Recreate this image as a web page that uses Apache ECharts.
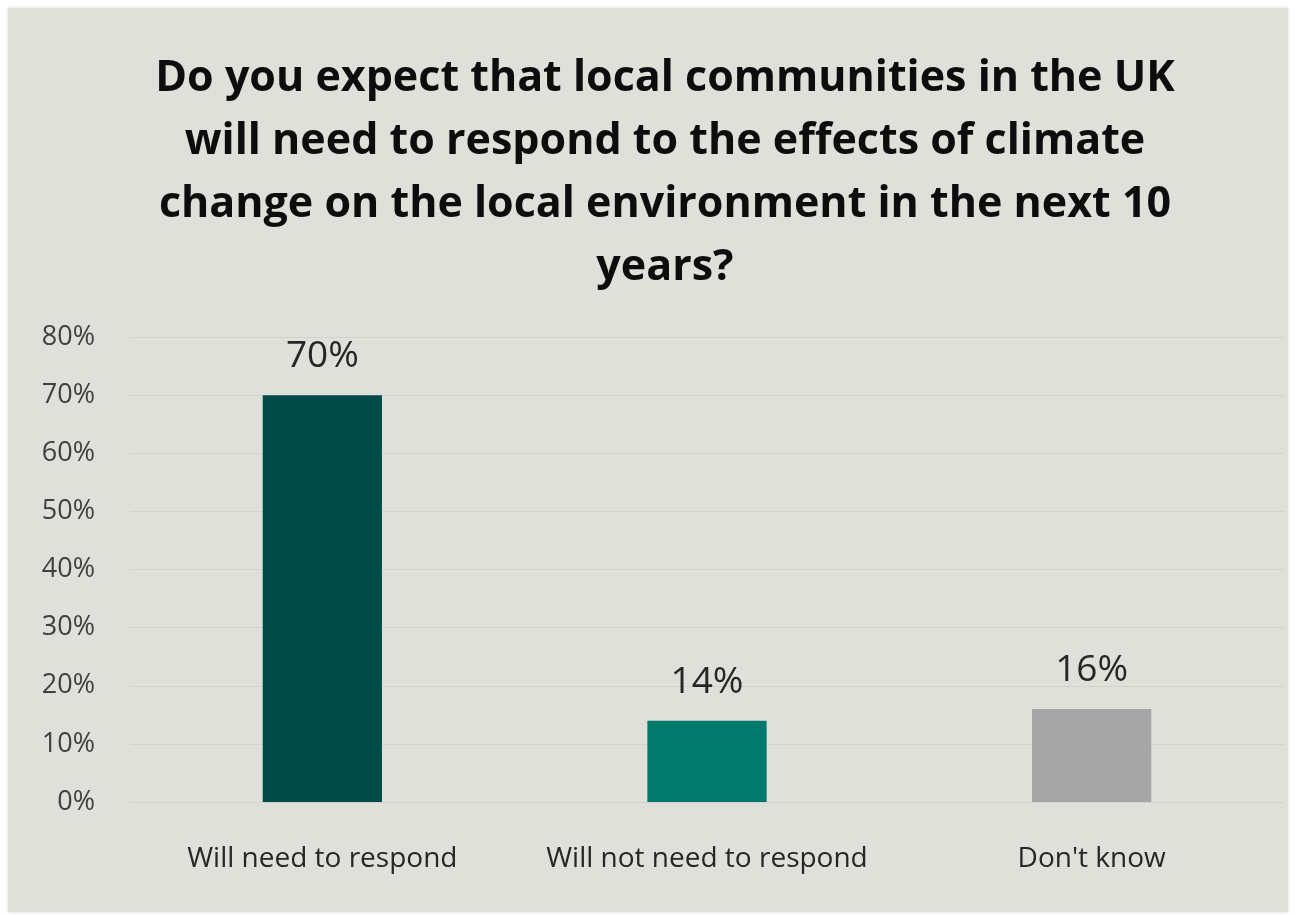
<!DOCTYPE html>
<html><head><meta charset="utf-8">
<script src="https://cdn.jsdelivr.net/npm/echarts@6/dist/echarts.min.js"></script>
<style>html,body{margin:0;padding:0;background:#fff}#c{width:1296px;height:915px}</style>
</head><body><div id="c"></div>
<script>
const categories = ['Will need to respond', 'Will not need to respond', "Don't know"];
const values = [70, 14, 16];
const barColors = ['#004B48', '#007A6C', '#A6A6A6'];
const yTicks = [0, 10, 20, 30, 40, 50, 60, 70, 80];
const titleText = 'Do you expect that local communities in the UK\nwill need to respond to the effects of climate\nchange on the local environment in the next 10\nyears?';

const chart = echarts.init(document.getElementById('c'));
const FONT = '"Open Sans", Lato, sans-serif';
chart.setOption({
  backgroundColor: '#ffffff',
  animation: false,
  graphic: [{
    type: 'rect', z: -10, silent: true,
    shape: {x: 8, y: 8, width: 1280, height: 904},
    style: {fill: '#E0E0DA', shadowBlur: 4, shadowColor: 'rgba(0,0,0,0.15)'}
  }],
  title: {
    text: titleText,
    left: 660, top: 42, textAlign: 'center',
    textStyle: {fontFamily: FONT, fontWeight: 'bold', fontSize: 43, lineHeight: 63, color: '#0d0d0d'}
  },
  grid: {left: 130, right: 12, top: 337, bottom: 113},
  xAxis: {
    type: 'category', data: categories,
    axisLine: {show: false}, axisTick: {show: false},
    axisLabel: {interval: 0, hideOverlap: false, fontFamily: FONT, fontSize: 28, color: '#262626', margin: 43}
  },
  yAxis: {
    type: 'value', min: 0, max: 80, interval: 10,
    axisLine: {show: false}, axisTick: {show: false},
    splitLine: {lineStyle: {color: '#D3D3CC', width: 1}},
    axisLabel: {fontFamily: FONT, fontSize: 27, color: '#404040', margin: 35,
      formatter: v => yTicks.includes(v) ? v + '%' : ''}
  },
  series: [{
    type: 'bar', barWidth: '31%',
    data: values.map((v, i) => ({value: v, itemStyle: {color: barColors[i]}})),
    label: {show: true, position: 'top', distance: 20, fontFamily: FONT, fontSize: 37, color: '#262626', formatter: p => p.value + '%'}
  }]
});
</script></body></html>
